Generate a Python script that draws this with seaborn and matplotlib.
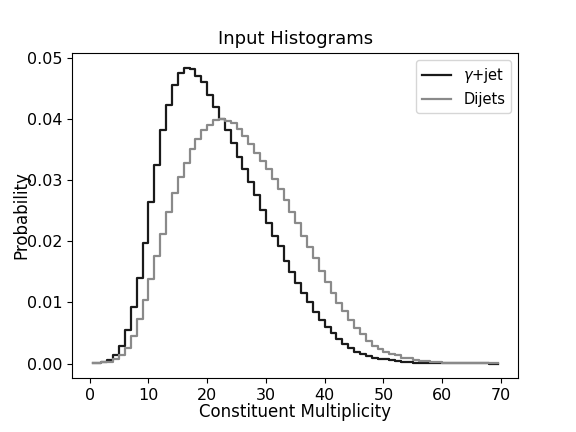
import numpy as np
import pandas as pd
import matplotlib
matplotlib.use("Agg")
import matplotlib.pyplot as plt
import seaborn as sns

# Bin centres (constituent multiplicity)
multiplicity = np.arange(70) + 0.5

gamma_jet = [
    0.00005, 0.0001, 0.00027, 0.00055, 0.00136, 0.00284, 0.00547, 0.0093, 0.01406, 0.0197,
    0.0264, 0.0326, 0.0382, 0.0424, 0.0456, 0.0476, 0.0485, 0.0483, 0.0471, 0.0461,
    0.0440, 0.0420, 0.0401, 0.0383, 0.0361, 0.0338, 0.0319, 0.0297, 0.0276, 0.0252,
    0.0231, 0.0209, 0.0193, 0.0168, 0.01495, 0.01324, 0.0116, 0.01012, 0.00848, 0.00711,
    0.00601, 0.00493, 0.00399, 0.00312, 0.00246, 0.00191, 0.00153, 0.0012, 0.00092, 0.00076,
    0.0007, 0.00054, 0.0004, 0.0003, 0.00022, 0.00016, 0.00013, 0.0001, 0.00008, 0.00006,
    0.00005, 0.00004, 0.00003, 0.00002, 0.00002, 0.00001, 0.00001, 0.00001, 0.0, 0.0,
]

dijets = [
    0.00002, 0.00008, 0.0002, 0.00027, 0.00066, 0.00136, 0.00262, 0.00453, 0.00727, 0.0104,
    0.01385, 0.01768, 0.02124, 0.0249, 0.0280, 0.0305, 0.03285, 0.03515, 0.0368, 0.0382,
    0.0391, 0.0399, 0.0400, 0.0397, 0.0394, 0.0385, 0.0372, 0.0359, 0.0345, 0.0332,
    0.0318, 0.0303, 0.0286, 0.0268, 0.0248, 0.0230, 0.0209, 0.01915, 0.01725, 0.01521,
    0.0134, 0.0116, 0.00995, 0.00859, 0.00711, 0.00585, 0.00476, 0.00372, 0.00284, 0.0023,
    0.0019, 0.0015, 0.00136, 0.00098, 0.00082, 0.00054, 0.00044, 0.00038, 0.00027, 0.0002,
    0.00015, 0.00012, 0.0001, 0.00008, 0.00006, 0.00005, 0.00004, 0.00003, 0.00002, 0.00002,
]

labels = ["$\\gamma$+jet", "Dijets"]

fig = plt.figure(figsize=(5.76, 4.32), dpi=100)
ax = fig.add_axes([0.1255, 0.1243, 0.7743, 0.7537])

sns.lineplot(x=multiplicity, y=gamma_jet, ax=ax, color="#1a1a1a", lw=1.6,
             drawstyle="steps-mid", label=labels[0])
sns.lineplot(x=multiplicity, y=dijets, ax=ax, color="#8a8a8a", lw=1.6,
             drawstyle="steps-mid", label=labels[1])

ax.set_title("Input Histograms", fontsize=13)
ax.set_xlabel("Constituent Multiplicity", fontsize=12)
ax.set_ylabel("Probability", fontsize=12)
ax.yaxis.set_label_coords(-0.095, 0.5)
ax.xaxis.set_label_coords(0.5, -0.076)
ax.tick_params(labelsize=11.5)
ax.set_xticks([0, 10, 20, 30, 40, 50, 60, 70])
ax.set_yticks([0.0, 0.01, 0.02, 0.03, 0.04, 0.05])
ax.legend(loc="upper right", fontsize=10.5)

fig.savefig("out.png", dpi=100)
